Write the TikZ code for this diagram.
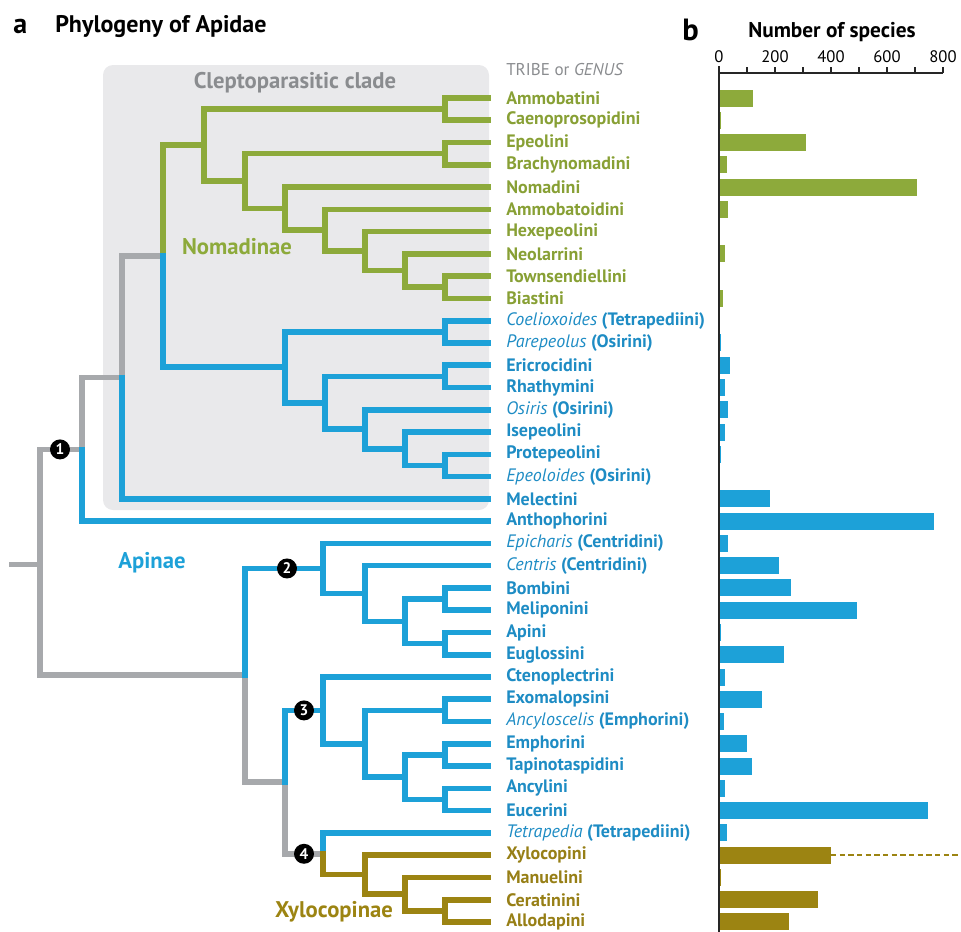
\documentclass[tikz,border=0pt]{standalone}
\usepackage{fontspec}
\setmainfont{PT Sans}
\definecolor{cgreen}{HTML}{8DAA3B}
\definecolor{cblue}{HTML}{1DA1D8}
\definecolor{colive}{HTML}{9C8412}
\definecolor{cgray}{HTML}{A7A9AC}
\definecolor{cbox}{HTML}{E9E9EB}
\definecolor{tgreen}{HTML}{88A035}
\definecolor{tblue}{HTML}{1E8CC4}
\definecolor{tolive}{HTML}{977F16}
\definecolor{tgray}{HTML}{8A8C8F}
\newcommand\R[1]{98+22.27*#1}
\newcommand\gen[1]{{\mdseries\itshape #1}}
\begin{document}
\begin{tikzpicture}[x=0.75pt,y=-0.75pt,
  br/.style={line width=4.2pt,line cap=rect},
  leaf/.style={anchor=west,font=\bfseries\fontsize{13.5}{14}\selectfont,inner sep=0pt},
  circ/.style={circle,fill=black,text=white,inner sep=0pt,minimum size=15pt,font=\bfseries\fontsize{11.5}{12}\selectfont},
  clade/.style={font=\bfseries\fontsize{17}{18}\selectfont,inner sep=0pt},
  head/.style={font=\bfseries\fontsize{16}{17}\selectfont,inner sep=0pt,anchor=west},
  tick/.style={font=\fontsize{12.5}{13}\selectfont,inner sep=0pt}
]
\useasboundingbox (0,0) rectangle (961,932);
% background of cleptoparasitic clade
\fill[cbox,rounded corners=7.5pt] (103,65) rectangle (489,510);
\node[clade,text=tgray,font=\bfseries\fontsize{17}{18}\selectfont] (clepto) at (295,83) {Cleptoparasitic clade};

% leaves
\foreach \i/\c/\t in {
 0/tgreen/Ammobatini, 1/tgreen/Caenoprosopidini, 2/tgreen/Epeolini, 3/tgreen/Brachynomadini,
 4/tgreen/Nomadini, 5/tgreen/Ammobatoidini, 6/tgreen/Hexepeolini, 7/tgreen/Neolarrini,
 8/tgreen/Townsendiellini, 9/tgreen/Biastini,
 10/tblue/\gen{Coelioxoides} (Tetrapediini), 11/tblue/\gen{Parepeolus} (Osirini),
 12/tblue/Ericrocidini, 13/tblue/Rhathymini, 14/tblue/\gen{Osiris} (Osirini),
 15/tblue/Isepeolini, 16/tblue/Protepeolini, 17/tblue/\gen{Epeoloides} (Osirini),
 18/tblue/Melectini, 19/tblue/Anthophorini, 20/tblue/\gen{Epicharis} (Centridini),
 21/tblue/\gen{Centris} (Centridini), 22/tblue/Bombini, 23/tblue/Meliponini,
 24/tblue/Apini, 25/tblue/Euglossini, 26/tblue/Ctenoplectrini, 27/tblue/Exomalopsini,
 28/tblue/\gen{Ancyloscelis} (Emphorini), 29/tblue/Emphorini, 30/tblue/Tapinotaspidini,
 31/tblue/Ancylini, 32/tblue/Eucerini, 33/tblue/\gen{Tetrapedia} (Tetrapediini),
 34/tolive/Xylocopini, 35/tolive/Manuelini, 36/tolive/Ceratinini, 37/tolive/Allodapini}
{
  \coordinate (t\i) at (488,{\R{\i}});
  \node[leaf,text=\c] (l\i) at (506,{\R{\i}}) {\t};
}

% internal nodes
\coordinate (AC) at (445,{\R{0.5}});
\coordinate (EB) at (445,{\R{2.5}});
\coordinate (TB) at (445,{\R{8.5}});
\coordinate (N5) at (405,{\R{7.75}});
\coordinate (N4) at (365,{\R{6.875}});
\coordinate (N3) at (325,{\R{5.9375}});
\coordinate (N2) at (285,{\R{4.96875}});
\coordinate (N1b) at (245,{\R{3.734}});
\coordinate (N0) at (204,{\R{2.117}});
\coordinate (C0) at (163,{\R{7.10}});
\coordinate (CP) at (445,{\R{10.5}});
\coordinate (ER) at (445,{\R{12.5}});
\coordinate (PE) at (445,{\R{16.5}});
\coordinate (B4) at (405,{\R{15.75}});
\coordinate (B3) at (365,{\R{14.875}});
\coordinate (B2) at (325,{\R{13.6875}});
\coordinate (B1) at (285,{\R{12.09}});
\coordinate (C1) at (122,{\R{12.55}});
\coordinate (n1) at (82,{\R{15.78}});
\coordinate (root) at (40,{\R{20.94}});
\coordinate (stem) at (12,{\R{20.94}});
\coordinate (BM) at (445,{\R{22.5}});
\coordinate (AE) at (445,{\R{24.5}});
\coordinate (K3) at (405,{\R{23.5}});
\coordinate (K2) at (365,{\R{22.25}});
\coordinate (n2) at (323,{\R{21.125}});
\coordinate (EA) at (445,{\R{27.5}});
\coordinate (ET) at (445,{\R{29.5}});
\coordinate (AnE) at (445,{\R{31.5}});
\coordinate (M3) at (405,{\R{30.5}});
\coordinate (M2) at (365,{\R{29}});
\coordinate (n3) at (323,{\R{27.5}});
\coordinate (CA) at (445,{\R{36.5}});
\coordinate (X3) at (405,{\R{35.75}});
\coordinate (X2) at (365,{\R{34.875}});
\coordinate (n4) at (323,{\R{33.9375}});
\coordinate (N34) at (285,{\R{30.72}});
\coordinate (N234) at (245,{\R{25.92}});

% gray backbone
\draw[br,cgray] (stem) -- (root);
\draw[br,cgray] (root) |- (n1);
\draw[br,cgray] (root) |- (N234);
\draw[br,cgray] (n1) |- (C1);
\draw[br,cgray] (C1) |- (C0);
\draw[br,cgray] (N234) |- (N34);
\draw[br,cgray] (N34) |- (n4);

% Nomadinae
\begin{scope}[br,cgreen]
\draw (AC) |- (t0); \draw (AC) |- (t1);
\draw (EB) |- (t2); \draw (EB) |- (t3);
\draw (TB) |- (t8); \draw (TB) |- (t9);
\draw (N5) |- (t7); \draw (N5) |- (TB);
\draw (N4) |- (t6); \draw (N4) |- (N5);
\draw (N3) |- (t5); \draw (N3) |- (N4);
\draw (N2) |- (t4); \draw (N2) |- (N3);
\draw (N1b) |- (EB); \draw (N1b) |- (N2);
\draw (N0) |- (AC); \draw (N0) |- (N1b);
\draw (C0) |- (N0);
\end{scope}

% Apinae
\begin{scope}[br,cblue]
\draw (CP) |- (t10); \draw (CP) |- (t11);
\draw (ER) |- (t12); \draw (ER) |- (t13);
\draw (PE) |- (t16); \draw (PE) |- (t17);
\draw (B4) |- (t15); \draw (B4) |- (PE);
\draw (B3) |- (t14); \draw (B3) |- (B4);
\draw (B2) |- (ER); \draw (B2) |- (B3);
\draw (B1) |- (CP); \draw (B1) |- (B2);
\draw (C0) |- (B1);
\draw (C1) |- (t18);
\draw (n1) |- (t19);
\draw (BM) |- (t22); \draw (BM) |- (t23);
\draw (AE) |- (t24); \draw (AE) |- (t25);
\draw (K3) |- (BM); \draw (K3) |- (AE);
\draw (K2) |- (t21); \draw (K2) |- (K3);
\draw (n2) |- (t20); \draw (n2) |- (K2);
\draw (N234) |- (n2);
\draw (EA) |- (t27); \draw (EA) |- (t28);
\draw (ET) |- (t29); \draw (ET) |- (t30);
\draw (AnE) |- (t31); \draw (AnE) |- (t32);
\draw (M3) |- (ET); \draw (M3) |- (AnE);
\draw (M2) |- (EA); \draw (M2) |- (M3);
\draw (n3) |- (t26); \draw (n3) |- (M2);
\draw (N34) |- (n3);
\draw (n4) |- (t33);
\end{scope}

% Xylocopinae
\begin{scope}[br,colive]
\draw (CA) |- (t36); \draw (CA) |- (t37);
\draw (X3) |- (t35); \draw (X3) |- (CA);
\draw (X2) |- (t34); \draw (X2) |- (X3);
\draw (n4) |- (X2);
\end{scope}

% numbered nodes
\node[circ] (c1) at (60,{\R{15.78}}) {1};
\node[circ] (c2) at (287,{\R{21.125}}) {2};
\node[circ] (c3) at (304,{\R{27.5}}) {3};
\node[circ] (c4) at (304,{\R{33.9375}}) {4};

% clade names
\node[clade,text=cgreen] (nomad) at (237,247) {Nomadinae};
\node[clade,text=cblue] (apin) at (152,563) {Apinae};
\node[clade,text=colive] (xylo) at (334,912) {Xylocopinae};

% headers
\node[head,font=\bfseries\fontsize{21}{22}\selectfont] (la) at (13,26) {a};
\node[head,font=\bfseries\fontsize{18}{19}\selectfont] (ta) at (55,27) {Phylogeny of Apidae};
\node[head,font=\bfseries\fontsize{23}{24}\selectfont] (lb) at (682,30) {b};
\node[head] (tb) at (748,32) {Number of species};
\node[anchor=west,inner sep=0pt,text=tgray,font=\fontsize{12.8}{13}\selectfont] (tg) at (506,70) {TRIBE or \textit{GENUS}};

% axis
\draw[line width=1.1pt,black!85] (719,73) -- (943,73);
\draw[line width=1.1pt,black!85] (719,66) -- (719,932);
\foreach \k in {1,...,8} { \draw[line width=1.1pt,black!85] ({719+28*\k},73) -- ({719+28*\k},67); }
\foreach \v in {0,200,400,600,800} { \node[tick] (tk\v) at ({719+0.28*\v},57) {\v}; }

% bars
\foreach \i/\v/\c in {
 0/121/cgreen, 1/4/cgreen, 2/310/cgreen, 3/29/cgreen, 4/707/cgreen, 5/32/cgreen,
 7/21/cgreen, 9/14/cgreen, 11/3/cblue, 12/39/cblue, 13/21/cblue, 14/32/cblue, 15/21/cblue,
 16/3/cblue, 18/182/cblue, 19/768/cblue, 20/32/cblue, 21/214/cblue, 22/257/cblue,
 23/493/cblue, 24/4/cblue, 25/232/cblue, 26/21/cblue, 27/154/cblue, 28/18/cblue,
 29/100/cblue, 30/118/cblue, 31/21/cblue, 32/746/cblue, 33/29/cblue,
 34/400/colive, 35/3/colive, 36/354/colive, 37/250/colive}
{
  \fill[\c] (719.5,{\R{\i}-8.5}) rectangle ({719+0.28*\v},{\R{\i}+8.5});
}
\draw[colive,line width=1.5pt,dash pattern=on 4pt off 2.5pt] ({719+0.28*400},{\R{34}}) -- (961,{\R{34}});
\end{tikzpicture}
\end{document}
